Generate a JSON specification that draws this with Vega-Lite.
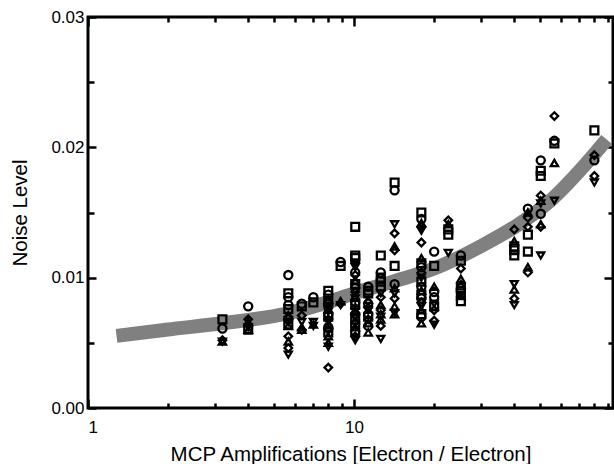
{
  "$schema": "https://vega.github.io/schema/vega-lite/v6.json",
  "width": 525,
  "height": 391,
  "autosize": {"type": "none"},
  "padding": {"left": 88, "top": 17, "right": 1, "bottom": 56},
  "background": "white",
  "config": {
    "view": {"stroke": "black", "strokeWidth": 3},
    "font": "Liberation Sans",
    "axis": {
      "domain": false,
      "grid": false,
      "tickColor": "black",
      "tickWidth": 2.5,
      "labelColor": "black",
      "labelFontSize": 17,
      "labelFont": "Liberation Sans",
      "titleFont": "Liberation Sans",
      "titleFontSize": 20.5,
      "titleFontWeight": "normal",
      "titleColor": "black"
    }
  },
  "datasets": {
    "curve": [
      {"x": 1.28, "y": 0.00553},
      {"x": 2.0, "y": 0.00602},
      {"x": 3.13, "y": 0.00648},
      {"x": 5.58, "y": 0.00725},
      {"x": 8.34, "y": 0.00825},
      {"x": 10, "y": 0.0088},
      {"x": 14, "y": 0.0097},
      {"x": 20, "y": 0.0107},
      {"x": 30.5, "y": 0.0125},
      {"x": 40.9, "y": 0.0140},
      {"x": 54.6, "y": 0.0159},
      {"x": 72.6, "y": 0.0185},
      {"x": 89, "y": 0.0206}
    ],
    "pts": [
      {"x": 3.2, "y": 0.0068, "s": "s"}, {"x": 3.2, "y": 0.0061, "s": "c"}, {"x": 3.2, "y": 0.0051, "s": "u"}, {"x": 3.2, "y": 0.0051, "s": "v"}, {"x": 3.2, "y": 0.0052, "s": "d"},
      {"x": 4.0, "y": 0.0078, "s": "c"}, {"x": 4.0, "y": 0.0068, "s": "d"}, {"x": 4.0, "y": 0.0066, "s": "u"}, {"x": 4.0, "y": 0.0062, "s": "v"}, {"x": 4.0, "y": 0.0060, "s": "s"}, {"x": 4.0, "y": 0.0060, "s": "u"},
      {"x": 5.66, "y": 0.0102, "s": "c"}, {"x": 5.66, "y": 0.0088, "s": "s"}, {"x": 5.66, "y": 0.0085, "s": "c"}, {"x": 5.66, "y": 0.0079, "s": "c"}, {"x": 5.66, "y": 0.0076, "s": "s"}, {"x": 5.66, "y": 0.0071, "s": "u"}, {"x": 5.66, "y": 0.0070, "s": "d"}, {"x": 5.66, "y": 0.0068, "s": "c"}, {"x": 5.66, "y": 0.0066, "s": "v"}, {"x": 5.66, "y": 0.0064, "s": "s"}, {"x": 5.66, "y": 0.0063, "s": "u"}, {"x": 5.66, "y": 0.0055, "s": "d"}, {"x": 5.66, "y": 0.0051, "s": "u"}, {"x": 5.66, "y": 0.0046, "s": "d"}, {"x": 5.66, "y": 0.0041, "s": "v"},
      {"x": 6.36, "y": 0.0080, "s": "c"}, {"x": 6.36, "y": 0.0078, "s": "s"}, {"x": 6.36, "y": 0.0071, "s": "d"}, {"x": 6.36, "y": 0.0066, "s": "v"}, {"x": 6.36, "y": 0.0062, "s": "u"}, {"x": 6.36, "y": 0.0060, "s": "d"}, {"x": 6.36, "y": 0.0060, "s": "u"},
      {"x": 7.03, "y": 0.0085, "s": "c"}, {"x": 7.03, "y": 0.0081, "s": "s"}, {"x": 7.03, "y": 0.0066, "s": "v"}, {"x": 7.03, "y": 0.0064, "s": "u"}, {"x": 7.03, "y": 0.0063, "s": "v"},
      {"x": 8.0, "y": 0.0090, "s": "s"}, {"x": 8.0, "y": 0.0087, "s": "c"}, {"x": 8.0, "y": 0.0083, "s": "u"}, {"x": 8.0, "y": 0.0082, "s": "s"}, {"x": 8.0, "y": 0.0080, "s": "c"}, {"x": 8.0, "y": 0.0078, "s": "d"}, {"x": 8.0, "y": 0.0076, "s": "u"}, {"x": 8.0, "y": 0.0074, "s": "v"}, {"x": 8.0, "y": 0.0072, "s": "c"}, {"x": 8.0, "y": 0.0070, "s": "s"}, {"x": 8.0, "y": 0.0068, "s": "d"}, {"x": 8.0, "y": 0.0066, "s": "v"}, {"x": 8.0, "y": 0.0064, "s": "u"}, {"x": 8.0, "y": 0.0062, "s": "c"}, {"x": 8.0, "y": 0.0060, "s": "d"}, {"x": 8.0, "y": 0.0058, "s": "s"}, {"x": 8.0, "y": 0.0055, "s": "u"}, {"x": 8.0, "y": 0.0050, "s": "u"}, {"x": 8.0, "y": 0.0047, "s": "v"}, {"x": 8.0, "y": 0.0031, "s": "d"},
      {"x": 8.9, "y": 0.0112, "s": "c"}, {"x": 8.9, "y": 0.0109, "s": "s"}, {"x": 8.9, "y": 0.0082, "s": "u"}, {"x": 8.9, "y": 0.0080, "s": "d"}, {"x": 8.9, "y": 0.0079, "s": "v"},
      {"x": 10.1, "y": 0.0139, "s": "s"}, {"x": 10.1, "y": 0.0117, "s": "s"}, {"x": 10.1, "y": 0.0115, "s": "s"}, {"x": 10.1, "y": 0.0111, "s": "v"}, {"x": 10.1, "y": 0.0108, "s": "v"}, {"x": 10.1, "y": 0.0104, "s": "c"}, {"x": 10.1, "y": 0.0102, "s": "d"}, {"x": 10.1, "y": 0.0098, "s": "u"}, {"x": 10.1, "y": 0.0095, "s": "s"}, {"x": 10.1, "y": 0.0092, "s": "c"}, {"x": 10.1, "y": 0.0089, "s": "d"}, {"x": 10.1, "y": 0.0086, "s": "u"}, {"x": 10.1, "y": 0.0084, "s": "v"}, {"x": 10.1, "y": 0.0081, "s": "c"}, {"x": 10.1, "y": 0.0079, "s": "s"}, {"x": 10.1, "y": 0.0077, "s": "d"}, {"x": 10.1, "y": 0.0075, "s": "u"}, {"x": 10.1, "y": 0.0072, "s": "c"}, {"x": 10.1, "y": 0.0070, "s": "v"}, {"x": 10.1, "y": 0.0068, "s": "s"}, {"x": 10.1, "y": 0.0066, "s": "d"}, {"x": 10.1, "y": 0.0064, "s": "c"}, {"x": 10.1, "y": 0.0062, "s": "u"}, {"x": 10.1, "y": 0.0059, "s": "s"}, {"x": 10.1, "y": 0.0055, "s": "d"}, {"x": 10.1, "y": 0.0052, "s": "v"},
      {"x": 11.3, "y": 0.0093, "s": "c"}, {"x": 11.3, "y": 0.0090, "s": "s"}, {"x": 11.3, "y": 0.0088, "s": "s"}, {"x": 11.3, "y": 0.0083, "s": "u"}, {"x": 11.3, "y": 0.0080, "s": "c"}, {"x": 11.3, "y": 0.0077, "s": "d"}, {"x": 11.3, "y": 0.0075, "s": "v"}, {"x": 11.3, "y": 0.0072, "s": "c"}, {"x": 11.3, "y": 0.0070, "s": "s"}, {"x": 11.3, "y": 0.0068, "s": "d"}, {"x": 11.3, "y": 0.0065, "s": "u"}, {"x": 11.3, "y": 0.0063, "s": "c"}, {"x": 11.3, "y": 0.0058, "s": "u"},
      {"x": 12.6, "y": 0.0117, "s": "s"}, {"x": 12.6, "y": 0.0104, "s": "c"}, {"x": 12.6, "y": 0.0100, "s": "s"}, {"x": 12.6, "y": 0.0097, "s": "s"}, {"x": 12.6, "y": 0.0093, "s": "s"}, {"x": 12.6, "y": 0.0088, "s": "v"}, {"x": 12.6, "y": 0.0085, "s": "d"}, {"x": 12.6, "y": 0.0079, "s": "u"}, {"x": 12.6, "y": 0.0075, "s": "d"}, {"x": 12.6, "y": 0.0072, "s": "u"}, {"x": 12.6, "y": 0.0070, "s": "v"}, {"x": 12.6, "y": 0.0068, "s": "u"}, {"x": 12.6, "y": 0.0063, "s": "d"}, {"x": 12.6, "y": 0.0053, "s": "v"},
      {"x": 14.2, "y": 0.0173, "s": "s"}, {"x": 14.2, "y": 0.0167, "s": "c"}, {"x": 14.2, "y": 0.0141, "s": "v"}, {"x": 14.2, "y": 0.0134, "s": "d"}, {"x": 14.2, "y": 0.0124, "s": "u"}, {"x": 14.2, "y": 0.0121, "s": "d"}, {"x": 14.2, "y": 0.0109, "s": "s"}, {"x": 14.2, "y": 0.0095, "s": "c"}, {"x": 14.2, "y": 0.0092, "s": "u"}, {"x": 14.2, "y": 0.0088, "s": "v"}, {"x": 14.2, "y": 0.0084, "s": "d"}, {"x": 14.2, "y": 0.0078, "s": "u"}, {"x": 14.2, "y": 0.0073, "s": "v"}, {"x": 14.2, "y": 0.0072, "s": "u"},
      {"x": 17.9, "y": 0.0150, "s": "s"}, {"x": 17.9, "y": 0.0145, "s": "c"}, {"x": 17.9, "y": 0.0142, "s": "u"}, {"x": 17.9, "y": 0.0139, "s": "d"}, {"x": 17.9, "y": 0.0136, "s": "v"}, {"x": 17.9, "y": 0.0127, "s": "d"}, {"x": 17.9, "y": 0.0115, "s": "u"}, {"x": 17.9, "y": 0.0111, "s": "s"}, {"x": 17.9, "y": 0.0108, "s": "c"}, {"x": 17.9, "y": 0.0104, "s": "d"}, {"x": 17.9, "y": 0.0100, "s": "v"}, {"x": 17.9, "y": 0.0097, "s": "s"}, {"x": 17.9, "y": 0.0093, "s": "c"}, {"x": 17.9, "y": 0.0090, "s": "u"}, {"x": 17.9, "y": 0.0087, "s": "s"}, {"x": 17.9, "y": 0.0084, "s": "c"}, {"x": 17.9, "y": 0.0081, "s": "d"}, {"x": 17.9, "y": 0.0078, "s": "v"}, {"x": 17.9, "y": 0.0075, "s": "u"}, {"x": 17.9, "y": 0.0072, "s": "s"}, {"x": 17.9, "y": 0.0070, "s": "c"}, {"x": 17.9, "y": 0.0065, "s": "u"},
      {"x": 20.0, "y": 0.0120, "s": "c"}, {"x": 20.0, "y": 0.0109, "s": "s"}, {"x": 20.0, "y": 0.0093, "s": "u"}, {"x": 20.0, "y": 0.0089, "s": "c"}, {"x": 20.0, "y": 0.0085, "s": "c"}, {"x": 20.0, "y": 0.0080, "s": "v"}, {"x": 20.0, "y": 0.0078, "s": "s"}, {"x": 20.0, "y": 0.0075, "s": "d"}, {"x": 20.0, "y": 0.0067, "s": "d"}, {"x": 20.0, "y": 0.0064, "s": "v"},
      {"x": 22.6, "y": 0.0144, "s": "d"}, {"x": 22.6, "y": 0.0141, "s": "u"}, {"x": 22.6, "y": 0.0137, "s": "s"}, {"x": 22.6, "y": 0.0133, "s": "s"}, {"x": 22.6, "y": 0.0119, "s": "v"},
      {"x": 25.2, "y": 0.0117, "s": "c"}, {"x": 25.2, "y": 0.0113, "s": "s"}, {"x": 25.2, "y": 0.0107, "s": "d"}, {"x": 25.2, "y": 0.0099, "s": "u"}, {"x": 25.2, "y": 0.0095, "s": "u"}, {"x": 25.2, "y": 0.0092, "s": "s"}, {"x": 25.2, "y": 0.0090, "s": "c"}, {"x": 25.2, "y": 0.0088, "s": "s"}, {"x": 25.2, "y": 0.0086, "s": "u"}, {"x": 25.2, "y": 0.0082, "s": "s"},
      {"x": 40, "y": 0.0137, "s": "d"}, {"x": 40, "y": 0.0128, "s": "u"}, {"x": 40, "y": 0.0124, "s": "s"}, {"x": 40, "y": 0.0121, "s": "s"}, {"x": 40, "y": 0.0117, "s": "s"}, {"x": 40, "y": 0.0095, "s": "v"}, {"x": 40, "y": 0.0091, "s": "u"}, {"x": 40, "y": 0.0084, "s": "d"}, {"x": 40, "y": 0.0079, "s": "v"},
      {"x": 45, "y": 0.0153, "s": "c"}, {"x": 45, "y": 0.0150, "s": "u"}, {"x": 45, "y": 0.0146, "s": "d"}, {"x": 45, "y": 0.0139, "s": "d"}, {"x": 45, "y": 0.0133, "s": "s"}, {"x": 45, "y": 0.0120, "s": "s"}, {"x": 45, "y": 0.0108, "s": "u"}, {"x": 45, "y": 0.0104, "s": "d"},
      {"x": 50.3, "y": 0.0190, "s": "c"}, {"x": 50.3, "y": 0.0182, "s": "s"}, {"x": 50.3, "y": 0.0178, "s": "s"}, {"x": 50.3, "y": 0.0163, "s": "d"}, {"x": 50.3, "y": 0.0159, "s": "u"}, {"x": 50.3, "y": 0.0157, "s": "v"}, {"x": 50.3, "y": 0.0149, "s": "c"}, {"x": 50.3, "y": 0.0141, "s": "u"}, {"x": 50.3, "y": 0.0139, "s": "d"}, {"x": 50.3, "y": 0.0117, "s": "v"},
      {"x": 56.6, "y": 0.0224, "s": "d"}, {"x": 56.6, "y": 0.0205, "s": "c"}, {"x": 56.6, "y": 0.0203, "s": "s"}, {"x": 56.6, "y": 0.0188, "s": "u"}, {"x": 56.6, "y": 0.0159, "s": "v"},
      {"x": 80, "y": 0.0213, "s": "s"}, {"x": 80, "y": 0.0194, "s": "d"}, {"x": 80, "y": 0.0190, "s": "c"}, {"x": 80, "y": 0.0178, "s": "d"}, {"x": 80, "y": 0.0173, "s": "v"}
    ]
  },
  "layer": [
    {
      "data": {"name": "curve"},
      "mark": {"type": "line", "color": "#808080", "strokeWidth": 14, "strokeCap": "butt", "interpolate": "monotone"},
      "encoding": {
        "x": {"field": "x", "type": "quantitative", "scale": {"type": "log", "domain": [1, 94]},
          "axis": {"orient": "bottom", "values": [1, 10], "format": "d", "tickSize": -9, "labelPadding": 20,
            "title": "MCP Amplifications [Electron / Electron]", "titlePadding": 9}},
        "y": {"field": "y", "type": "quantitative", "scale": {"domain": [0, 0.03], "nice": false, "zero": true},
          "axis": {"orient": "left", "values": [0, 0.01, 0.02, 0.03], "format": ".2f", "tickSize": -8, "labelPadding": 12,
            "title": "Noise Level", "titlePadding": 20}}
      }
    },
    {
      "data": {"name": "curve"},
      "mark": {"type": "line", "opacity": 0},
      "encoding": {
        "x": {"field": "x", "type": "quantitative", "scale": {"type": "log", "domain": [1, 94]},
          "axis": {"orient": "bottom", "values": [2, 3, 4, 5, 6, 7, 8, 9, 20, 30, 40, 50, 60, 70, 80, 90], "labels": false, "tickSize": -5, "title": null}},
        "y": {"field": "y", "type": "quantitative",
          "axis": {"orient": "left", "values": [0.005, 0.015, 0.025], "labels": false, "tickSize": -6, "title": null}}
      }
    },
    {
      "data": {"name": "curve"},
      "mark": {"type": "line", "opacity": 0},
      "encoding": {
        "x": {"field": "x", "type": "quantitative", "scale": {"type": "log", "domain": [1, 94]},
          "axis": {"orient": "top", "values": [2, 3, 4, 5, 6, 7, 8, 9, 20, 30, 40, 50, 60, 70, 80, 90], "labels": false, "tickSize": -5, "title": null}},
        "y": {"field": "y", "type": "quantitative",
          "axis": {"orient": "right", "values": [0.005, 0.015, 0.025], "labels": false, "tickSize": -5, "title": null}}
      }
    },
    {
      "data": {"name": "pts"},
      "mark": {"type": "point", "filled": false, "stroke": "black", "strokeWidth": 2.3, "opacity": 1},
      "encoding": {
        "x": {"field": "x", "type": "quantitative", "scale": {"type": "log", "domain": [1, 94]},
          "axis": {"orient": "top", "values": [1, 10], "labels": false, "tickSize": -9, "title": null}},
        "y": {"field": "y", "type": "quantitative",
          "axis": {"orient": "right", "values": [0, 0.01, 0.02, 0.03], "labels": false, "tickSize": -9, "title": null}},
        "shape": {"field": "s", "type": "nominal", "legend": null,
          "scale": {"domain": ["c", "s", "d", "u", "v"], "range": ["circle", "square", "diamond", "triangle-up", "triangle-down"]}},
        "size": {"field": "s", "type": "nominal", "legend": null,
          "scale": {"domain": ["c", "s", "d", "u", "v"], "range": [66, 48, 78, 72, 72]}}
      }
    }
  ],
  "resolve": {"axis": {"x": "independent", "y": "independent"}}
}
